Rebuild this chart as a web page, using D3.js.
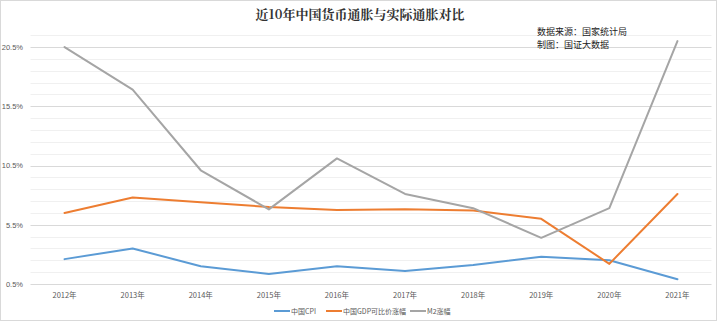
<!DOCTYPE html>
<html><head><meta charset="utf-8">
<script src="https://cdn.jsdelivr.net/npm/d3@7"></script>
<style>body{margin:0;background:#fff}svg{display:block}</style>
</head><body>
<svg id="c" width="720" height="322"></svg>
<script>
const years = ["2012年","2013年","2014年","2015年","2016年","2017年","2018年","2019年","2020年","2021年"];
const cpi = [2.6, 3.5, 2.0, 1.35, 2.0, 1.6, 2.1, 2.8, 2.5, 0.9];
const gdp = [6.5, 7.8, 7.4, 7.0, 6.75, 6.8, 6.7, 6.0, 2.2, 8.1];
const m2 = [20.5, 16.9, 10.1, 6.8, 11.1, 8.1, 6.9, 4.4, 6.9, 21.0];
const seriesNames = ["中国CPI", "中国GDP可比价涨幅", "M2涨幅"];
const seriesColors = ["#5B9BD5", "#ED7D31", "#A5A5A5"];
const yTicks = [0.5, 5.5, 10.5, 15.5, 20.5];
const title = "近10年中国货币通胀与实际通胀对比";
const notes = ["数据来源：国家统计局", "制图：国证大数据"];

const svg = d3.select("#c");
svg.append("rect").attr("x",0.5).attr("y",0.5).attr("width",716).attr("height",320)
  .attr("fill","#fff").attr("stroke","#d9d9d9");

const x = d3.scaleBand().domain(years).range([30.5, 711.5]);
const y = d3.scaleLinear().domain([0.5, 21.5]).range([284, 35.2]);

const minor = d3.range(0.5, 21.6, 1);
svg.append("g").selectAll("line").data(minor).join("line")
  .attr("x1", 30.5).attr("x2", 711.5)
  .attr("y1", d => Math.round(y(d)) + 0.5).attr("y2", d => Math.round(y(d)) + 0.5)
  .attr("stroke", d => yTicks.includes(d) ? "#d9d9d9" : "#f0f0f0").attr("stroke-width", 1);

const yAxis = svg.append("g").attr("transform","translate(26,0)")
  .call(d3.axisLeft(y).tickValues(yTicks).tickSize(0).tickFormat(d => d.toFixed(1) + "%"));
yAxis.select(".domain").remove();
yAxis.selectAll("text").attr("font-family","Arial, 'Liberation Sans', sans-serif")
  .attr("font-size", 7.5).attr("fill","#595959");

const xAxis = svg.append("g").attr("transform","translate(0,290)")
  .call(d3.axisBottom(x).tickSize(0));
xAxis.select(".domain").remove();
xAxis.selectAll("text").attr("font-family","'Noto Sans CJK SC', sans-serif")
  .attr("font-size", 7.5).attr("fill","#595959");

const data = [cpi, gdp, m2];
const line = d3.line().x((d,i) => x(years[i]) + x.bandwidth()/2).y(d => y(d));
svg.append("g").selectAll("path").data(data).join("path")
  .attr("d", d => line(d)).attr("fill","none")
  .attr("stroke", (d,i) => seriesColors[i]).attr("stroke-width", 2)
  .attr("stroke-linejoin","round").attr("stroke-linecap","round");

svg.append("text").attr("x", 360).attr("y", 19).attr("text-anchor","middle")
  .attr("font-family","'Noto Serif CJK SC', 'Noto Sans CJK SC', serif").attr("font-weight","bold")
  .attr("font-size", 13).attr("fill","#333").text(title);

svg.append("g").selectAll("text").data(notes).join("text")
  .attr("x", 537).attr("y", (d,i) => 35 + i*13)
  .attr("font-family","'Noto Sans CJK SC', sans-serif").attr("font-size", 9)
  .attr("fill","#222").text(d => d);

const legX = [274, 326, 410];
const leg = svg.append("g").selectAll("g").data(seriesNames).join("g")
  .attr("transform", (d,i) => `translate(${legX[i]},311)`);
leg.append("line").attr("x1",0).attr("x2",16).attr("y1",0).attr("y2",0)
  .attr("stroke",(d,i)=>seriesColors[i]).attr("stroke-width",2);
leg.append("text").attr("x",17).attr("y",2.5)
  .attr("font-family","'Noto Sans CJK SC', sans-serif").attr("font-size",7)
  .attr("fill","#595959").text(d => d);
</script>
</body></html>
